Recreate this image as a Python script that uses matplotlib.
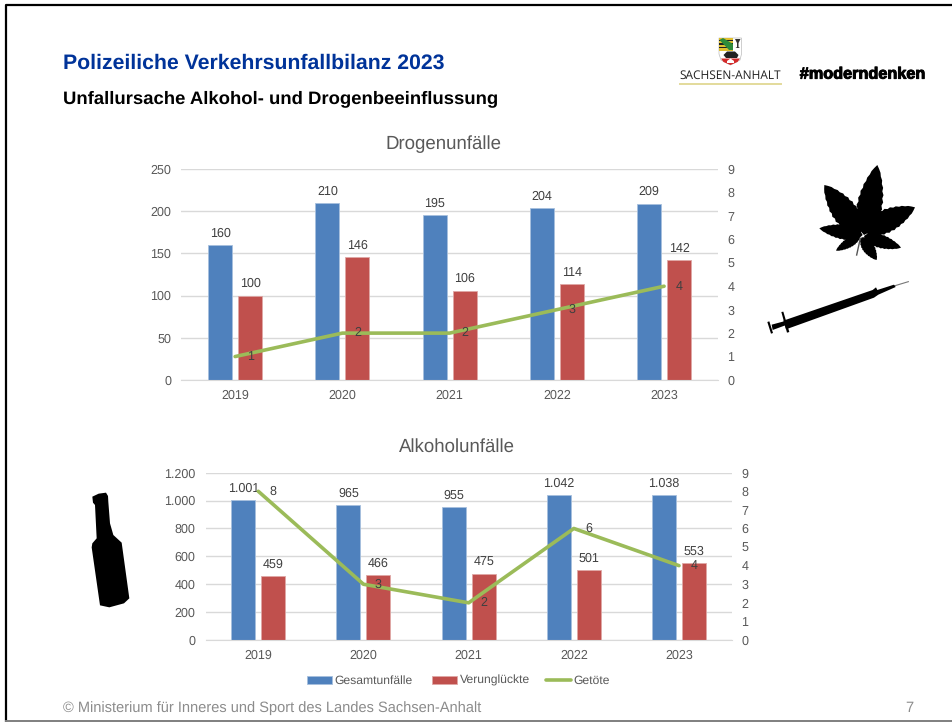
import numpy as np
import matplotlib
matplotlib.use("Agg")
import matplotlib.pyplot as plt
from matplotlib.patches import Polygon
from matplotlib.lines import Line2D
import matplotlib.patheffects as pe

plt.rcParams['font.family'] = ['Liberation Sans', 'DejaVu Sans']
plt.rcParams['text.hinting'] = 'no_hinting'
plt.rcParams['text.hinting_factor'] = 8

years = ['2019', '2020', '2021', '2022', '2023']
drug_total = [160, 210, 195, 204, 209]
drug_injured = [100, 146, 106, 114, 142]
drug_killed = [1, 2, 2, 3, 4]
alc_total = [1001, 965, 955, 1042, 1038]
alc_injured = [459, 466, 475, 501, 553]
alc_killed = [8, 3, 2, 6, 4]

BLUE, RED, GREEN = '#4F81BD', '#C0504D', '#9BBB59'
GRID, TICK, LBL = '#D9D9D9', '#595959', '#404040'
W, H = 953, 722
FS = 9.0

fig = plt.figure(figsize=(W / 100, H / 100), dpi=100, facecolor='white')


def px_axes(l, t, r, b):
    return fig.add_axes([l / W, 1 - b / H, (r - l) / W, (b - t) / H])


def de(v):
    return f'{v:,}'.replace(',', '.')


def chart(box, title, title_x, title_y, total, injured, killed, ymax, step):
    l, t, r, b = box
    ax = px_axes(l, t, r, b)
    x = np.arange(len(years))
    slot = (r - l) / len(years)
    off, bw = 15 / slot, 24 / slot
    b1 = ax.bar(x - off, total, bw, color=BLUE, ec='#A7C0DE', lw=0.6, label='Gesamtunfälle', zorder=2)
    b2 = ax.bar(x + off, injured, bw, color=RED, ec='#DFA7A5', lw=0.6, label='Verunglückte', zorder=2)
    ax.set_xlim(-0.5, len(years) - 0.5)
    ax.set_ylim(0, ymax)
    yt = np.arange(0, ymax + 1, step)
    ax.set_yticks(yt)
    ax.set_yticklabels([de(int(v)) for v in yt])
    ax.set_xticks(x)
    ax.set_xticklabels(years)
    ax.tick_params(length=0, labelsize=FS, labelcolor=TICK)
    ax.tick_params(axis='y', pad=7.5)
    ax.tick_params(axis='x', pad=7)
    ax.grid(axis='y', color=GRID, lw=1, zorder=0)
    ax.set_axisbelow(True)
    for s in ['top', 'left', 'right']:
        ax.spines[s].set_visible(False)
    ax.spines['bottom'].set_color(GRID)
    for xs, vals in ((x - off, total), (x + off, injured)):
        for xi, v in zip(xs, vals):
            ax.annotate(de(v), (xi, v), xytext=(0, 4), textcoords='offset points',
                        ha='center', va='bottom', fontsize=FS, color=LBL, zorder=6)
    ax2 = ax.twinx()
    ax2.set_ylim(0, 9)
    ax2.set_yticks(range(10))
    ax2.tick_params(length=0, labelsize=FS, labelcolor=TICK, pad=7)
    for s in ax2.spines.values():
        s.set_visible(False)
    ln, = ax2.plot(x, killed, color=GREEN, lw=2.6, label='Getöte', zorder=5,
                   solid_capstyle='round', solid_joinstyle='round')
    for xi, v in zip(x, killed):
        ax2.annotate(str(v), (xi + off, v), ha='center', va='center',
                     fontsize=FS, color=LBL, zorder=6)
    fig.text(title_x / W, 1 - title_y / H, title, ha='center', va='center',
             fontsize=13.4, color=TICK)
    return b1, b2, ln


chart((181.5, 169, 717.7, 380), 'Drogenunfälle', 443, 144,
      drug_total, drug_injured, drug_killed, 250, 50)
handles = chart((205.7, 472.7, 731.6, 640), 'Alkoholunfälle', 456.5, 447,
                alc_total, alc_injured, alc_killed, 1200, 200)

for h, xpos, dy in zip(handles, (307, 432, 546), (1.0, 0.5, 1.0)):
    leg = fig.legend(handles=[h], loc='lower left', bbox_to_anchor=(xpos / W, 1 - 687 / H),
                     frameon=False, fontsize=8.7, labelcolor=TICK, handlelength=2.1,
                     handleheight=0.65, handletextpad=0.2, borderpad=0, borderaxespad=0)
    leg.get_texts()[0].set_y(dy)

# Slide text
fig.text(63 / W, 1 - 63 / H, 'Polizeiliche Verkehrsunfallbilanz 2023', fontsize=15.3,
         fontweight='bold', color='#003399', va='center')
fig.text(63 / W, 1 - 99 / H, 'Unfallursache Alkohol- und Drogenbeeinflussung', fontsize=13.3,
         fontweight='bold', color='black', va='center')
fig.text(63 / W, 1 - 708 / H, '© Ministerium für Inneres und Sport des Landes Sachsen-Anhalt',
         fontsize=10.57, color='#8C8C8C', va='center')
fig.text(909 / W, 1 - 708 / H, '7', fontsize=10.57, color='#8C8C8C', va='center', ha='center')

# Pixel-space overlay for the slide decoration
ov = fig.add_axes([0, 0, 1, 1], zorder=10)
ov.set_xlim(0, W)
ov.set_ylim(H, 0)
ov.axis('off')
ov.patch.set_alpha(0)

# Frame
ov.add_line(Line2D([6, 6, W], [H, 5, 5], color='black', lw=1.6))
ov.add_line(Line2D([6, W], [721, 721], color='#7F7F7F', lw=1.4))

# Logo
ov.text(730.5, 75.5, 'SACHSEN-ANHALT', fontsize=8.6, family='Open Sans', color='#222222',
        ha='center', va='center')
ov.add_line(Line2D([680, 781], [84, 84], color='#E3DA9B', lw=1.4))
t = ov.text(862.5, 74.5, '#moderndenken', fontsize=11.7, fontweight='bold', color='black',
            ha='center', va='center', family='Liberation Sans')
t.set_path_effects([pe.withStroke(linewidth=0.7, foreground='black')])


def poly(pts, c='black', z=3):
    ov.add_patch(Polygon(pts, closed=True, fc=c, ec='none', zorder=z))


# Crest
ov.add_patch(Polygon([(719, 38), (741.5, 38), (741.5, 54), (740, 60), (730.5, 65), (721, 60), (719, 54)],
                     closed=True, fc='white', ec='#BBBBBB', lw=0.5, zorder=3))
poly([(719.5, 38), (733, 38), (733, 50.5), (719.5, 50.5)], '#E0C030')
for yy in (39.5, 43, 46.5):
    poly([(719.5, yy), (733, yy), (733, yy + 1.7), (719.5, yy + 1.7)], '#222222', 4)
poly([(719.5, 40), (723, 38), (733, 44), (733, 50), (729, 50)], '#2E8B3A', 5)
poly([(735, 39), (740.5, 39), (738.5, 43), (738.5, 47), (740, 48), (735.5, 48), (737, 47), (737, 43)], '#333333', 4)
poly([(723.5, 55), (727, 51.5), (735, 51.5), (738.5, 55), (737, 58), (726, 58)], '#222222', 4)
poly([(721, 58.5), (740, 58.5), (737.5, 62), (730.5, 65), (723.5, 62)], '#D42A2A', 4)
poly([(727, 61), (730.5, 58.5), (734, 61), (734, 63), (727, 63)], 'white', 5)


# Cannabis leaf, in zoom-crop coordinates
def leaflet(base, tip, width, teeth=10):
    base, tip = np.array(base, float), np.array(tip, float)
    d = tip - base
    n = np.array([-d[1], d[0]]) / np.hypot(*d)
    ts = np.linspace(0, 1, 2 * teeth + 1)
    w = width * np.sin(np.pi * ts ** 0.8) ** 0.75 / 2
    w = w * np.where(np.arange(len(ts)) % 2 == 0, 1.0, 0.9)
    up = base + np.outer(ts, d) + np.outer(w, n)
    dn = base + np.outer(ts, d) - np.outer(w, n)
    return np.vstack([up, dn[::-1]])


def to_px(p, ox=740, oy=150):
    return np.asarray(p, float) / 3 + (ox, oy)


for b_, t_, w_ in [((372, 255), (412, 45), 78), ((372, 245), (525, 172), 72),
                   ((362, 250), (253, 105), 78), ((368, 255), (238, 235), 46),
                   ((372, 258), (483, 293), 42), ((360, 258), (288, 302), 30),
                   ((365, 262), (410, 330), 38)]:
    poly(to_px(leaflet(b_, t_, w_)))
ov.add_line(Line2D(*zip(*to_px([(361, 265), (350, 315)])), color='#555555', lw=1))

# Syringe
sy = lambda pts: to_px(pts)
poly(sy([(130, 512), (398, 420), (408, 412), (412, 420), (462, 404), (467, 411), (415, 434),
         (402, 443), (138, 538)]))
poly(sy([(124, 486), (130, 485), (148, 546), (141, 548)]))
poly(sy([(95, 524), (132, 514), (136, 526), (98, 540)]))
poly(sy([(82, 516), (88, 514), (99, 549), (93, 551)]))
ov.add_line(Line2D(*zip(*sy([(462, 408), (505, 395)])), color='#777777', lw=0.8))

# Bottle
poly(to_px([(277, 110), (296, 101), (318, 98), (324, 108), (325, 126), (330, 190), (340, 225),
            (365, 248), (388, 415), (372, 430), (328, 442), (300, 436), (275, 262), (277, 250),
            (290, 235), (285, 135), (279, 128)], 0, 460))

fig.savefig('out.png', dpi=100)
